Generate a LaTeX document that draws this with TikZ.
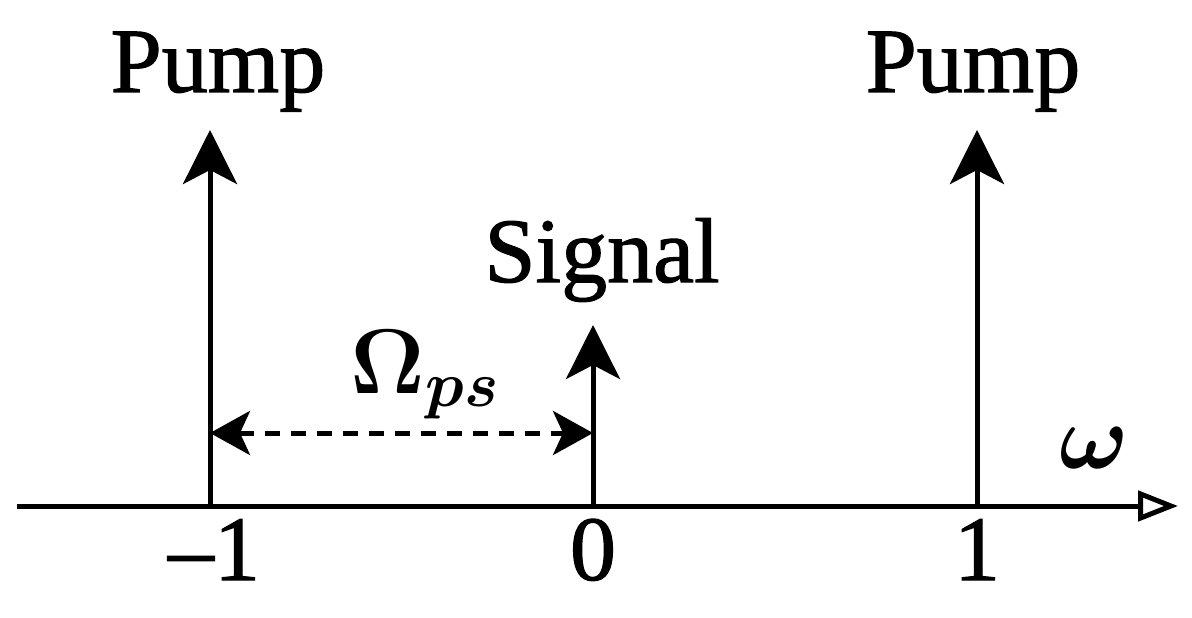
\documentclass[tikz,border=0pt]{standalone}
\usepackage{fix-cm}
\usepackage{fontspec}
\setmainfont{Liberation Serif}[BoldFont=Liberation Serif, BoldFeatures={FakeBold=1.2}]
\usetikzlibrary{arrows.meta}

\begin{document}
\begin{tikzpicture}[x=0.5pt, y=0.5pt, line width=2.5pt,
        spike/.style={-{Stealth[length=27pt, width=27pt, inset=7pt]}},
        gap/.style={{Stealth[length=20pt, width=22pt, inset=5pt]}-{Stealth[length=20pt, width=22pt, inset=5pt]},
            dash pattern=on 7.5pt off 5.5pt},
        lbl/.style={font=\fontsize{46}{54}\selectfont\bfseries\boldmath, inner sep=0pt, anchor=base}]
    \useasboundingbox (0,0) rectangle (1192,617);

    % frequency axis
    \coordinate (start) at (17,111);
    \coordinate (stop) at (1178,111);
    \draw [-{Triangle[open, length=20pt, width=15pt]}] (start) -- (stop);

    % spikes
    \coordinate (pl) at (210,111);
    \coordinate (sg) at (593,111);
    \coordinate (pr) at (977,111);
    \coordinate (pltop) at (210,487);
    \coordinate (sgtop) at (593,292);
    \coordinate (prtop) at (977,487);
    \draw [spike] (pl) -- (pltop);
    \draw [spike] (sg) -- (sgtop);
    \draw [spike] (pr) -- (prtop);

    % spacing
    \coordinate (gl) at (210,184);
    \coordinate (gr) at (593,184);
    \draw [gap] (gl) -- (gr);

    % labels
    \node [lbl] (pumpl) at (218,525) {Pump};
    \node [lbl] (pumpr) at (973,525) {Pump};
    \node [lbl] (signal) at (602,335) {Signal};
    \node [lbl] (omps) at (425,224) {$\Omega_{ps}$};
    \node [lbl] (om) at (1094,149) {$\omega$};
    \node [lbl] (tl) at (214,37) {–1};
    \node [lbl] (ts) at (593,37) {0};
    \node [lbl] (tr) at (977,37) {1};
\end{tikzpicture}
\end{document}
